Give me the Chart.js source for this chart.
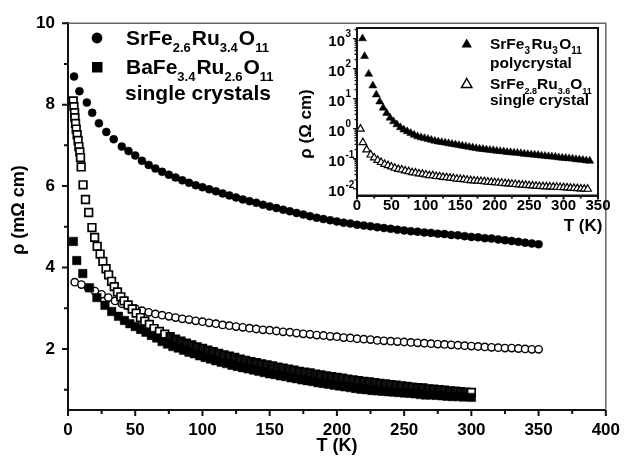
<!DOCTYPE html>
<html>
<head>
<meta charset="utf-8">
<script src="https://cdn.jsdelivr.net/npm/chart.js@4.4.0/dist/chart.umd.min.js"></script>
<style>
  html, body { margin: 0; padding: 0; background: #fff; }
  #wrap { position: relative; width: 630px; height: 456px; }
  #mainChart { position: absolute; left: 0; top: 0; }
  #insetChart { position: absolute; left: 290px; top: 0; }
</style>
</head>
<body>
<div id="wrap">
  <canvas id="mainChart" width="630" height="456"></canvas>
  <canvas id="insetChart" width="335" height="240"></canvas>
</div>
<script>
// ---- main panel data, T (K) and rho (mOhm cm) ----
const tSrFilled = [4.5, 8.5, 14, 18, 23, 28.5, 34, 40, 45, 50, 55, 60, 65, 70, 75, 80, 85, 90, 95, 100,
  105, 110, 115, 120, 125, 130, 135, 140, 145, 150, 155, 160, 165, 170, 175, 180, 185, 190, 195, 200,
  205, 210, 215, 220, 225, 230, 235, 240, 245, 250, 255, 260, 265, 270, 275, 280, 285, 290, 295, 300,
  305, 310, 315, 320, 325, 330, 335, 340, 345, 350];
const rhoSrFilled = [8.69, 8.33, 8.05, 7.80, 7.54, 7.33, 7.15, 6.97, 6.86, 6.75, 6.62, 6.52, 6.43, 6.35, 6.28, 6.21, 6.14, 6.08, 6.02, 5.97,
  5.92, 5.87, 5.82, 5.77, 5.72, 5.67, 5.63, 5.59, 5.54, 5.50, 5.46, 5.42, 5.38, 5.34, 5.30, 5.26, 5.22, 5.19, 5.16, 5.13,
  5.10, 5.08, 5.05, 5.03, 5.01, 4.99, 4.97, 4.95, 4.93, 4.91, 4.89, 4.88, 4.86, 4.85, 4.83, 4.82, 4.80, 4.79, 4.77, 4.75,
  4.74, 4.72, 4.71, 4.69, 4.67, 4.65, 4.63, 4.61, 4.59, 4.57];

const tSrOpen = [5, 10, 15, 20, 25, 30, 35, 40, 45, 50, 55, 60, 65, 70, 75, 80, 85, 90, 95, 100,
  105, 110, 115, 120, 125, 130, 135, 140, 145, 150, 155, 160, 165, 170, 175, 180, 185, 190, 195, 200,
  205, 210, 215, 220, 225, 230, 235, 240, 245, 250, 255, 260, 265, 270, 275, 280, 285, 290, 295, 300,
  305, 310, 315, 320, 325, 330, 335, 340, 345, 350];
const rhoSrOpen = [3.64, 3.58, 3.50, 3.42, 3.34, 3.26, 3.18, 3.11, 3.05, 2.99, 2.94, 2.90, 2.86, 2.83, 2.80, 2.77, 2.74, 2.72, 2.69, 2.67,
  2.64, 2.62, 2.59, 2.57, 2.55, 2.53, 2.51, 2.49, 2.47, 2.46, 2.44, 2.42, 2.41, 2.39, 2.37, 2.36, 2.34, 2.33, 2.31, 2.30,
  2.28, 2.27, 2.25, 2.24, 2.23, 2.21, 2.20, 2.19, 2.18, 2.17, 2.16, 2.15, 2.14, 2.13, 2.12, 2.11, 2.10, 2.09, 2.08, 2.07,
  2.06, 2.05, 2.04, 2.03, 2.02, 2.02, 2.01, 2.00, 1.99, 1.99];

const tBaFilled = [4, 6.5, 11, 16, 21.5, 27.5, 32.5, 37.5, 42, 46, 50, 54, 58, 62, 66, 70, 74, 78, 82, 86,
  90, 94, 98, 102, 106, 110, 114, 118, 122, 126, 130, 134, 138, 142, 146, 150, 154, 158, 162, 166,
  170, 174, 178, 182, 186, 190, 194, 198, 202, 206, 210, 214, 218, 222, 226, 230, 234, 238, 242, 246,
  250, 254, 258, 262, 266, 270, 274, 278, 282, 286, 290, 294, 300];
const rhoBaFilled = [4.64, 4.17, 3.85, 3.50, 3.26, 3.07, 2.92, 2.80, 2.70, 2.62, 2.55, 2.48, 2.41, 2.33, 2.27, 2.18, 2.12, 2.06, 2.02, 1.97,
  1.92, 1.88, 1.83, 1.79, 1.75, 1.71, 1.67, 1.64, 1.60, 1.57, 1.54, 1.51, 1.48, 1.45, 1.42, 1.39, 1.37, 1.34, 1.32, 1.29,
  1.27, 1.24, 1.22, 1.20, 1.17, 1.15, 1.13, 1.11, 1.09, 1.07, 1.05, 1.03, 1.01, 1.00, 0.98, 0.97, 0.96, 0.95, 0.94, 0.93,
  0.92, 0.91, 0.90, 0.88, 0.87, 0.87, 0.86, 0.85, 0.84, 0.83, 0.83, 0.82, 0.81];

const tBaOpen = [3.9, 4.4, 4.9, 5.1, 5.6, 6.1, 6.8, 7.5, 8.1, 8.8, 9.3, 9.8, 11.2, 13, 15.4, 17.8, 19.8, 21.7, 23.9, 25.9,
  28.3, 30.2, 32.4, 34.4, 36.8, 39.3, 41.7, 44.7, 47.8, 50.7, 53.9, 57.1, 60.5,
  64, 68, 72, 76, 80, 84, 88, 92, 96, 100, 104, 108, 112, 116, 120, 124, 128, 132, 136, 140,
  144, 148, 152, 156, 160, 164, 168, 172, 176, 180, 184, 188, 192, 196, 200, 204, 208, 212, 216, 220,
  224, 228, 232, 236, 240, 244, 248, 252, 256, 260, 264, 268, 272, 276, 280, 284, 288, 292, 296, 300];
const rhoBaOpen = [8.09, 7.95, 7.80, 7.68, 7.54, 7.40, 7.26, 7.12, 6.97, 6.84, 6.70, 6.47, 6.03, 5.67, 5.35, 4.98, 4.74, 4.52, 4.33, 4.15,
  3.97, 3.82, 3.66, 3.53, 3.40, 3.28, 3.18, 3.08, 2.98, 2.88, 2.77, 2.68, 2.60,
  2.50, 2.43, 2.36, 2.30, 2.24, 2.19, 2.14, 2.10, 2.05, 2.01, 1.97, 1.93, 1.89, 1.85, 1.82, 1.79, 1.75, 1.72, 1.69, 1.66,
  1.63, 1.61, 1.58, 1.55, 1.53, 1.50, 1.48, 1.45, 1.43, 1.41, 1.38, 1.36, 1.34, 1.32, 1.30, 1.28, 1.26, 1.24, 1.22, 1.20,
  1.19, 1.17, 1.15, 1.14, 1.12, 1.11, 1.09, 1.08, 1.06, 1.05, 1.04, 1.02, 1.01, 1.00, 0.99, 0.97, 0.96, 0.95, 0.94, 0.93];

// ---- inset data, T (K) and rho (Ohm cm) ----
const tPoly = [8, 11, 17, 23, 28, 33, 38, 43, 48, 53, 58, 63, 68, 73, 78, 83, 88, 93, 98, 103,
  108, 113, 118, 123, 128, 133, 138, 143, 148, 153, 158, 163, 168, 173, 178, 183, 188, 193, 198, 203,
  208, 213, 218, 223, 228, 233, 238, 243, 248, 253, 258, 263, 268, 273, 278, 283, 288, 293, 298, 303,
  308, 313, 318, 323, 328, 333, 338];
const rhoPoly = [1000, 257, 66, 27, 13.5, 7.9, 4.9, 3.3, 2.3, 1.74, 1.38, 1.10, 0.93, 0.81, 0.71, 0.62, 0.55, 0.51, 0.48, 0.45,
  0.42, 0.39, 0.37, 0.355, 0.34, 0.324, 0.31, 0.295, 0.282, 0.269, 0.257, 0.245, 0.234, 0.224, 0.214, 0.209, 0.20, 0.195, 0.19, 0.182,
  0.178, 0.174, 0.166, 0.162, 0.158, 0.155, 0.151, 0.145, 0.141, 0.138, 0.135, 0.132, 0.126, 0.123, 0.120, 0.117, 0.115, 0.110, 0.107, 0.105,
  0.102, 0.100, 0.095, 0.093, 0.091, 0.087, 0.085];

const tSingle = [5, 8.5, 14, 20, 25, 30, 35, 40, 45, 50, 55, 60, 65, 70, 75, 80, 85, 90, 95, 100,
  105, 110, 115, 120, 125, 130, 135, 140, 145, 150, 155, 160, 165, 170, 175, 180, 185, 190, 195, 200,
  205, 210, 215, 220, 225, 230, 235, 240, 245, 250, 255, 260, 265, 270, 275, 280, 285, 290, 295, 300,
  305, 310, 315, 320, 325, 330, 335];
const rhoSingle = [0.98, 0.35, 0.20, 0.135, 0.108, 0.089, 0.076, 0.066, 0.060, 0.054, 0.049, 0.045, 0.043, 0.040, 0.038, 0.035, 0.034, 0.032, 0.031, 0.0295,
  0.028, 0.0275, 0.026, 0.0257, 0.0245, 0.024, 0.023, 0.0224, 0.0214, 0.0209, 0.0204, 0.0195, 0.019, 0.0186, 0.0182, 0.0178, 0.0174, 0.017, 0.0166, 0.0162,
  0.0158, 0.0155, 0.0151, 0.0148, 0.0145, 0.0141, 0.0138, 0.0135, 0.0132, 0.0129, 0.0126, 0.0124, 0.0122, 0.0120, 0.0118, 0.0117, 0.0116, 0.0114, 0.0112, 0.0111,
  0.0109, 0.0107, 0.0105, 0.0103, 0.0101, 0.0099, 0.0098];

// ---- ticks ----
const mainXTicks = [0, 50, 100, 150, 200, 250, 300, 350, 400];
const mainXMinor = [25, 75, 125, 175, 225, 275, 325, 375];
const mainYTicks = [2, 4, 6, 8, 10];
const mainYMinor = [1, 3, 5, 7, 9];
const insetXTicks = [0, 50, 100, 150, 200, 250, 300, 350];
const insetXMinor = [25, 75, 125, 175, 225, 275, 325];
const insetYExponents = [-2, -1, 0, 1, 2, 3];

// ---- texts ----
const mainLegend1 = [['SrFe', 0], ['2.6', 1], ['Ru', 0], ['3.4', 1], ['O', 0], ['11', 1]];
const mainLegend2 = [['BaFe', 0], ['3.4', 1], ['Ru', 0], ['2.6', 1], ['O', 0], ['11', 1]];
const mainLegend3 = 'single crystals';
const insetLegend1 = [['SrFe', 0], ['3', 1], ['Ru', 0], ['3', 1], ['O', 0], ['11', 1]];
const insetLegend2 = 'polycrystal';
const insetLegend3 = [['SrFe', 0], ['2.8', 1], ['Ru', 0], ['3.6', 1], ['O', 0], ['11', 1]];
const insetLegend4 = 'single crystal';

const FONT = '"Liberation Sans", Arial, sans-serif';
Chart.defaults.font.family = FONT;
Chart.defaults.color = '#000';

function pts(t, r) {
  return t.map((x, i) => ({ x: x, y: r[i] }));
}

// formula text with subscripts
function drawRich(ctx, x, y, parts, size, subSize, drop, gap) {
  let cx = x;
  ctx.textAlign = 'left';
  ctx.textBaseline = 'alphabetic';
  parts.forEach(p => {
    ctx.font = 'bold ' + (p[1] ? subSize : size) + 'px ' + FONT;
    ctx.fillText(p[0], cx, p[1] ? y + drop : y);
    cx += ctx.measureText(p[0]).width + (p[1] ? gap : 0);
  });
}

function triangle(ctx, x, y, r, filled) {
  ctx.beginPath();
  ctx.moveTo(x, y - r);
  ctx.lineTo(x + r * 0.866, y + r / 2);
  ctx.lineTo(x - r * 0.866, y + r / 2);
  ctx.closePath();
  if (filled) { ctx.fillStyle = '#000'; ctx.fill(); }
  else { ctx.fillStyle = '#fff'; ctx.fill(); ctx.lineWidth = 1.5; ctx.strokeStyle = '#000'; ctx.stroke(); }
}

// main panel decorations: ticks, frame, titles, legend
const mainDecor = {
  id: 'mainDecor',
  afterDraw(chart) {
    const { ctx, chartArea: a, scales: { x, y } } = chart;
    ctx.save();
    ctx.strokeStyle = '#666';
    ctx.lineWidth = 1.5;
    ctx.beginPath();
    ctx.moveTo(a.left, a.top);
    ctx.lineTo(a.right, a.top);
    ctx.lineTo(a.right, a.bottom);
    ctx.stroke();

    ctx.strokeStyle = '#111';
    ctx.lineWidth = 2;
    ctx.beginPath();
    mainXTicks.forEach(v => { const px = x.getPixelForValue(v); ctx.moveTo(px, a.bottom); ctx.lineTo(px, a.bottom + 6); });
    mainXMinor.forEach(v => { const px = x.getPixelForValue(v); ctx.moveTo(px, a.bottom); ctx.lineTo(px, a.bottom + 4); });
    mainYTicks.forEach(v => { const py = y.getPixelForValue(v); ctx.moveTo(a.left, py); ctx.lineTo(a.left - 6, py); });
    mainYMinor.forEach(v => { const py = y.getPixelForValue(v); ctx.moveTo(a.left, py); ctx.lineTo(a.left - 4, py); });
    ctx.stroke();

    ctx.fillStyle = '#000';
    ctx.font = 'bold 18px ' + FONT;
    ctx.textAlign = 'center';
    ctx.textBaseline = 'middle';
    ctx.fillText('T (K)', (a.left + a.right) / 2, 446);
    ctx.save();
    ctx.translate(19, 210);
    ctx.rotate(-Math.PI / 2);
    ctx.fillText('\u03C1 (m\u03A9 cm)', 0, 0);
    ctx.restore();

    // legend
    ctx.beginPath();
    ctx.arc(97, 38, 5.4, 0, Math.PI * 2);
    ctx.fill();
    ctx.fillRect(92, 62, 10.5, 10.5);
    drawRich(ctx, 126, 45, mainLegend1, 21, 13, 7, 1);
    drawRich(ctx, 126, 74, mainLegend2, 21, 13, 7, 1);
    ctx.font = 'bold 21px ' + FONT;
    ctx.fillText(mainLegend3, 125, 100);
    ctx.restore();
  }
};

// the densely measured part of the open-square curve reads as a solid black band
const denseBand = c => c.raw && c.raw.x > 72 && c.raw.x < 299;

new Chart(document.getElementById('mainChart'), {
  type: 'scatter',
  data: {
    datasets: [
      { label: 'SrFe2.6Ru3.4O11 (filled)', data: pts(tSrFilled, rhoSrFilled), pointStyle: 'circle', pointRadius: 4,
        pointBackgroundColor: '#000', pointBorderColor: '#000', pointBorderWidth: 0.5, order: 0 },
      { label: 'BaFe3.4Ru2.6O11 (filled)', data: pts(tBaFilled, rhoBaFilled), pointStyle: 'rect', pointRadius: 6,
        pointBackgroundColor: '#000', pointBorderColor: '#000', pointBorderWidth: 0.5, order: 1 },
      { label: 'BaFe3.4Ru2.6O11 (open)', data: pts(tBaOpen, rhoBaOpen), pointStyle: 'rect', pointRadius: 5.4,
        pointBackgroundColor: c => denseBand(c) ? '#111' : '#fff', pointBorderColor: '#000',
        pointBorderWidth: 1.7, order: 2 },
      { label: 'SrFe2.6Ru3.4O11 (open)', data: pts(tSrOpen, rhoSrOpen), pointStyle: 'circle', pointRadius: 3.7,
        pointBackgroundColor: '#fff', pointBorderColor: '#000', pointBorderWidth: 1.4, order: 3 }
    ]
  },
  options: {
    responsive: false,
    animation: false,
    events: [],
    layout: { padding: { left: 0, right: 17, top: 21, bottom: 0 } },
    plugins: { legend: { display: false }, tooltip: { enabled: false } },
    scales: {
      x: {
        type: 'linear', min: 0, max: 400,
        afterFit: s => { s.height = 46; },
        afterBuildTicks: s => { s.ticks = mainXTicks.map(v => ({ value: v })); },
        grid: { display: false, drawTicks: false },
        border: { display: true, color: '#111', width: 2 },
        ticks: { padding: 10, autoSkip: false, maxRotation: 0, color: '#000', font: { size: 17, weight: 'bold' } }
      },
      y: {
        type: 'linear', min: 0.5, max: 10,
        afterFit: s => { s.width = 68; },
        afterBuildTicks: s => { s.ticks = mainYTicks.map(v => ({ value: v })); },
        grid: { display: false, drawTicks: false },
        border: { display: true, color: '#111', width: 2 },
        ticks: { padding: 13, autoSkip: false, color: '#000', font: { size: 17, weight: 'bold' } }
      }
    }
  },
  plugins: [mainDecor]
});

// inset decorations
const insetDecor = {
  id: 'insetDecor',
  beforeDraw(chart) {
    const { ctx, chartArea: a } = chart;
    ctx.save();
    ctx.fillStyle = '#fff';
    ctx.fillRect(a.left, a.top, a.right - a.left, a.bottom - a.top);
    ctx.restore();
  },
  afterDraw(chart) {
    const { ctx, chartArea: a, scales: { x, y } } = chart;
    ctx.save();
    ctx.strokeStyle = '#111';
    ctx.lineWidth = 2;
    ctx.strokeRect(a.left, a.top, a.right - a.left, a.bottom - a.top);

    ctx.beginPath();
    insetXTicks.forEach(v => { const px = x.getPixelForValue(v); ctx.moveTo(px, a.bottom); ctx.lineTo(px, a.bottom + 4); });
    insetXMinor.forEach(v => { const px = x.getPixelForValue(v); ctx.moveTo(px, a.bottom); ctx.lineTo(px, a.bottom + 3); });
    ctx.stroke();
    ctx.lineWidth = 1.3;
    ctx.beginPath();
    insetYExponents.forEach(e => {
      const py = y.getPixelForValue(Math.pow(10, e));
      ctx.moveTo(a.left, py); ctx.lineTo(a.left - 4, py);
      for (let m = 2; m <= 9; m++) {
        const v = m * Math.pow(10, e);
        if (v > y.max) break;
        const pm = y.getPixelForValue(v);
        ctx.moveTo(a.left, pm); ctx.lineTo(a.left - 2.5, pm);
      }
    });
    ctx.stroke();

    // y labels 10^n
    ctx.fillStyle = '#000';
    insetYExponents.forEach(e => {
      const py = y.getPixelForValue(Math.pow(10, e));
      ctx.font = 'bold 15px ' + FONT;
      ctx.textAlign = 'right';
      ctx.textBaseline = 'middle';
      ctx.fillText('10', 55, py + 3);
      ctx.font = 'bold 10px ' + FONT;
      ctx.textAlign = 'left';
      ctx.fillText(e < 0 ? '-' + (-e) : String(e), 55.5, py - 4);
    });

    // titles
    ctx.font = 'bold 17px ' + FONT;
    ctx.textAlign = 'center';
    ctx.textBaseline = 'middle';
    ctx.fillText('T (K)', 293, 226);
    ctx.save();
    ctx.translate(16, 124);
    ctx.rotate(-Math.PI / 2);
    ctx.fillText('\u03C1 (\u03A9 cm)', 0, 0);
    ctx.restore();

    // legend
    triangle(ctx, 176.7, 44.5, 6, true);
    triangle(ctx, 176.7, 84.5, 6, false);
    ctx.fillStyle = '#000';
    drawRich(ctx, 200, 48.5, insetLegend1, 15.5, 10, 5, 1.5);
    ctx.font = 'bold 15.5px ' + FONT;
    ctx.fillText(insetLegend2, 200, 68);
    drawRich(ctx, 200, 88.5, insetLegend3, 15.5, 9, 5, 0);
    ctx.font = 'bold 15.5px ' + FONT;
    ctx.fillText(insetLegend4, 200, 105);
    ctx.restore();
  }
};

new Chart(document.getElementById('insetChart'), {
  type: 'scatter',
  data: {
    datasets: [
      { label: 'SrFe3Ru3O11 polycrystal', data: pts(tPoly, rhoPoly), pointStyle: 'triangle', pointRadius: 4.6,
        pointBackgroundColor: '#000', pointBorderColor: '#000', pointBorderWidth: 0.5 },
      { label: 'single crystal', data: pts(tSingle, rhoSingle), pointStyle: 'triangle', pointRadius: 4.3,
        pointBackgroundColor: '#fff', pointBorderColor: '#000', pointBorderWidth: 1.2 }
    ]
  },
  options: {
    responsive: false,
    animation: false,
    events: [],
    layout: { padding: { left: 0, right: 27, top: 28, bottom: 0 } },
    plugins: { legend: { display: false }, tooltip: { enabled: false } },
    scales: {
      x: {
        type: 'linear', min: 0, max: 350,
        afterFit: s => { s.height = 44.5; },
        afterBuildTicks: s => { s.ticks = insetXTicks.map(v => ({ value: v })); },
        grid: { display: false, drawTicks: false },
        border: { display: true, color: '#111', width: 2 },
        ticks: { padding: 1, autoSkip: false, maxRotation: 0, color: '#000', font: { size: 15, weight: 'bold' } }
      },
      y: {
        type: 'logarithmic', min: 0.006, max: 2240,
        afterFit: s => { s.width = 67; },
        grid: { display: false, drawTicks: false },
        border: { display: true, color: '#111', width: 2 },
        ticks: { display: false }
      }
    }
  },
  plugins: [insetDecor]
});
</script>
</body>
</html>
